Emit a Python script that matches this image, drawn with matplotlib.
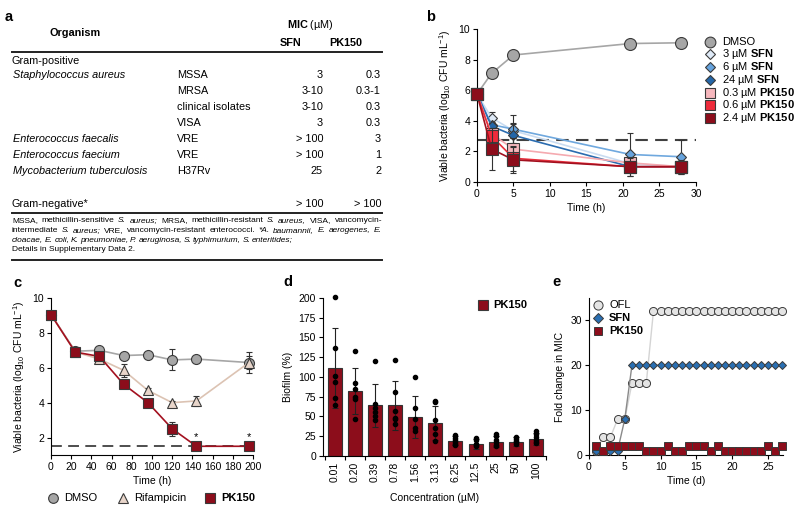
import matplotlib
matplotlib.use("Agg")
import matplotlib.pyplot as plt
from matplotlib.lines import Line2D

plt.rcParams["font.family"] = ["Liberation Sans", "DejaVu Sans"]
plt.rcParams["mathtext.fontset"] = "custom"
plt.rcParams["mathtext.rm"] = "Liberation Sans"
plt.rcParams["mathtext.it"] = "Liberation Sans:italic"
plt.rcParams["mathtext.bf"] = "Liberation Sans:bold"
plt.rcParams["mathtext.default"] = "regular"
FS = 7.5
TFS = 7.8   # table text
NFS = 6.0   # table footnote
EDGE = "#3a3a3a"

# ---- panel a: MIC table ----
tbl_organism = ["Staphylococcus aureus", "", "", "", "Enterococcus faecalis",
                "Enterococcus faecium", "Mycobacterium tuberculosis"]
tbl_strain = ["MSSA", "MRSA", "clinical isolates", "VISA", "VRE", "VRE", "H37Rv"]
tbl_sfn = ["3", "3-10", "3-10", "3", "> 100", "> 100", "25"]
tbl_pk150 = ["0.3", "0.3-1", "0.3", "0.3", "3", "1", "2"]
gramneg_sfn, gramneg_pk150 = "> 100", "> 100"
foot1 = [("MSSA,", 0), ("methicillin-sensitive", 0), ("S.", 1), ("aureus;", 1), ("MRSA,", 0),
         ("methicillin-resistant", 0), ("S.", 1), ("aureus,", 1), ("VISA,", 0), ("vancomycin-", 0)]
foot2 = [("intermediate", 0), ("S.", 1), ("aureus;", 1), ("VRE,", 0), ("vancomycin-resistant", 0),
         ("enterococci.", 0), ("*A.", 1), ("baumannii,", 1), ("E.", 1), ("aerogenes,", 1), ("E.", 1)]
foot3 = [("cloacae,", 1), ("E.", 1), ("coli,", 1), ("K.", 1), ("pneumoniae,", 1), ("P.", 1),
         ("aeruginosa,", 1), ("S.", 1), ("typhimurium,", 1), ("S.", 1), ("enteritides;", 1)]
foot4 = "Details in Supplementary Data 2."

# ---- panel b: time-kill S. aureus ----
b_time = [0, 2, 5, 21, 28]
b_dmso = [5.75, 7.1, 8.3, 9.05, 9.1]
b_dmso_err = [0, 0.15, 0.1, 0.1, 0.1]
b_sfn3 = [5.75, 4.2, 3.35, 1.2, 1.0]
b_sfn3_err = [0, 0.4, 0.5, 0, 0]
b_sfn6 = [5.75, 3.75, 3.45, 1.8, 1.65]
b_sfn6_err = [0, 0.2, 0.9, 1.4, 1.1]
b_sfn24 = [5.75, 3.65, 3.05, 1.0, 1.0]
b_sfn24_err = [0, 0.2, 0.75, 0, 0]
b_pk03 = [5.75, 3.15, 2.15, 1.25, 1.0]
b_pk03_err = [0, 0.3, 0.7, 0.3, 0]
b_pk06 = [5.75, 3.0, 1.55, 1.0, 1.0]
b_pk06_err = [0, 0.4, 0.8, 0.3, 0]
b_pk24 = [5.75, 2.15, 1.45, 1.0, 1.0]
b_pk24_err = [0, 1.35, 0.85, 0.6, 0.45]
b_limit = 2.75

# ---- panel c: persisters ----
c_time = [0, 24, 48, 72, 96, 120, 144, 196]
c_dmso = [9.05, 6.95, 7.0, 6.7, 6.75, 6.45, 6.5, 6.3]
c_dmso_err = [0, 0.1, 0.1, 0.1, 0.1, 0.6, 0.15, 0.6]
c_rif = [9.05, 6.9, 6.5, 5.85, 4.7, 4.0, 4.1, 6.3]
c_rif_err = [0, 0.1, 0.15, 0.35, 0.15, 0.1, 0.3, 0.35]
c_pk = [9.05, 6.9, 6.65, 5.05, 4.0, 2.5, 1.5, 1.5]
c_pk_err = [0, 0.1, 0.1, 0.1, 0.1, 0.4, 0, 0]
c_limit = 1.5
c_star_x = [144, 196]

# ---- panel d: biofilm ----
d_conc = ["0.01", "0.20", "0.39", "0.78", "1.56", "3.13", "6.25", "12.5", "25", "50", "100"]
d_mean = [111, 82, 64, 64, 49.5, 42, 19, 15, 18, 18, 21]
d_sd = [51, 29.5, 27.5, 31, 26.5, 21.5, 6, 6, 7, 6, 8]
d_points = [[201, 137, 101, 93, 73, 64], [133, 92, 84, 75, 72, 46], [120, 66, 61, 55, 50, 45],
            [121, 81, 57, 48, 46, 40], [100, 61, 46, 35, 31], [70, 68, 45, 35, 27, 19],
            [26, 23, 20, 18, 15, 13], [22, 20, 15, 13, 12], [27, 25, 20, 17, 14, 12],
            [24, 21, 19, 17, 15], [31, 28, 24, 20, 17, 16]]

# ---- panel e: resistance development ----
e_day = [1, 2, 3, 4, 5, 6, 7, 8, 9, 10, 11, 12, 13, 14, 15, 16, 17, 18, 19, 20, 21, 22, 23, 24, 25, 26, 27]
e_ofl = [1, 4, 4, 8, 8, 16, 16, 16, 32, 32, 32, 32, 32, 32, 32, 32, 32, 32, 32, 32, 32, 32, 32, 32, 32, 32, 32]
e_sfn = [1, 1, 1, 1, 8, 20, 20, 20, 20, 20, 20, 20, 20, 20, 20, 20, 20, 20, 20, 20, 20, 20, 20, 20, 20, 20, 20]
e_pk = [2, 1, 2, 2, 2, 2, 2, 1, 1, 1, 2, 1, 1, 2, 2, 2, 1, 2, 1, 1, 1, 1, 1, 1, 2, 1, 2]

W, H = 800, 515
fig = plt.figure(figsize=(8, 5.15), dpi=100)


def fx(px):
    return px / W


def fy(py):
    return 1 - py / H


def box(l, t, r, b):
    return [l / W, 1 - b / H, (r - l) / W, (b - t) / H]


def ftext(x, y, s, **kw):
    kw.setdefault("fontsize", FS)
    kw.setdefault("va", "center")
    return fig.text(fx(x), fy(y), s, **kw)


def fline(x0, x1, y, lw=1.4):
    fig.add_artist(Line2D([fx(x0), fx(x1)], [fy(y), fy(y)], color="#222222", lw=lw, transform=fig.transFigure))


def fmarker(x, y, **kw):
    fig.add_artist(Line2D([fx(x)], [fy(y)], ls="none", transform=fig.transFigure, **kw))


def style(ax):
    for s in ("top", "right"):
        ax.spines[s].set_visible(False)
    for s in ("left", "bottom"):
        ax.spines[s].set_linewidth(0.8)
    ax.tick_params(direction="out", length=3, width=0.8, labelsize=FS, pad=2)


def errs(ax, x, y, e, z=2):
    xs = [a for a, k in zip(x, e) if k > 0]
    ys = [a for a, k in zip(y, e) if k > 0]
    es = [k for k in e if k > 0]
    ax.errorbar(xs, ys, yerr=es, fmt="none", ecolor="#333333", elinewidth=0.8, capsize=2.5,
                capthick=0.8, zorder=z, clip_on=False)


# panel labels
for lab, x, y in [("a", 5, 17), ("b", 426, 17), ("c", 13, 283), ("d", 283, 282), ("e", 552, 282)]:
    ftext(x, y, lab, fontsize=10.5, fontweight="bold")

# ---- table ----
ftext(310, 25, r"$\mathbf{MIC}$ (µM)", ha="center", fontsize=TFS)
ftext(75, 33, "Organism", ha="center", fontweight="bold", fontsize=TFS)
ftext(291, 43, "SFN", ha="center", fontweight="bold", fontsize=TFS)
ftext(346, 43, "PK150", ha="center", fontweight="bold", fontsize=TFS)
fline(12, 382, 51.5)
ftext(12, 61, "Gram-positive", fontsize=TFS)
for i in range(len(tbl_strain)):
    y = 75 + i * 16
    ftext(13, y, tbl_organism[i], style="italic", fontsize=TFS)
    ftext(177, y, tbl_strain[i], fontsize=TFS)
    ftext(323, y, tbl_sfn[i], ha="right", fontsize=TFS)
    ftext(381, y, tbl_pk150[i], ha="right", fontsize=TFS)
ftext(12, 204, "Gram-negative*", fontsize=TFS)
ftext(323, 204, gramneg_sfn, ha="right", fontsize=TFS)
ftext(381, 204, gramneg_pk150, ha="right", fontsize=TFS)
fline(12, 382, 212.7)
fline(12, 382, 259.5)

renderer = fig.canvas.get_renderer()


def place_words(words, x0, x1, y, fs=NFS):
    arts = [fig.text(0, fy(y), w, fontsize=fs, style="italic" if it else "normal", va="center")
            for w, it in words]
    widths = [a.get_window_extent(renderer).width for a in arts]
    gap = max((x1 - x0 - sum(widths)) / (len(arts) - 1), 1.5)
    x = x0
    for a, w in zip(arts, widths):
        a.set_x(fx(x))
        x += w + gap


place_words(foot1, 12, 382, 220.7)
place_words(foot2, 12, 382, 230.3)
place_words(foot3, 12, 293, 240)
ftext(12, 249.5, foot4, fontsize=NFS)

# ---- panel b ----
axb = fig.add_axes(box(477, 29, 696, 182))
style(axb)
b_series = [
    ("DMSO", b_dmso, b_dmso_err, "o", 8.6, "#a6a6a6", "#a6a6a6"),
    (r"3 µM $\mathbf{SFN}$", b_sfn3, b_sfn3_err, "D", 5.6, "#dfeaf7", "#c9dcf1"),
    (r"6 µM $\mathbf{SFN}$", b_sfn6, b_sfn6_err, "D", 5.6, "#66a3dd", "#6fa8de"),
    (r"24 µM $\mathbf{SFN}$", b_sfn24, b_sfn24_err, "D", 5.6, "#2466a8", "#2a6cb0"),
    (r"0.3 µM $\mathbf{PK150}$", b_pk03, b_pk03_err, "s", 8.6, "#f6b7bd", "#f5aab0"),
    (r"0.6 µM $\mathbf{PK150}$", b_pk06, b_pk06_err, "s", 8.6, "#ee2b3b", "#e8303c"),
    (r"2.4 µM $\mathbf{PK150}$", b_pk24, b_pk24_err, "s", 8.6, "#8c0d1b", "#a3101f"),
]
axb.axhline(b_limit, color="#404040", lw=1.5, dashes=(6, 3.5), zorder=1)
for i, (lab, y, e, m, ms, fc, lc) in enumerate(b_series):
    z = 3 + i
    axb.plot(b_time, y, color=lc, lw=1.2, zorder=z)
    errs(axb, b_time, y, e, z)
    axb.plot(b_time, y, ls="none", marker=m, ms=ms, mfc=fc, mec=EDGE, mew=0.8, zorder=z + 0.5, clip_on=False)
    ly = 41.7 + i * 12.75
    fmarker(710, ly, marker=m, ms=ms * 0.9 if m != "D" else ms, mfc=fc, mec=EDGE, mew=0.8)
    ftext(722, ly, lab, fontsize=8)
axb.set_xlim(0, 30)
axb.set_ylim(0, 10)
axb.set_xticks([0, 5, 10, 15, 20, 25, 30])
axb.set_yticks([0, 2, 4, 6, 8, 10])
axb.set_xlabel("Time (h)", fontsize=FS, labelpad=3)
axb.set_ylabel(r"Viable bacteria (log$_{10}$ CFU mL$^{-1}$)", fontsize=FS, labelpad=4)

# ---- panel c ----
axc = fig.add_axes(box(51, 298, 253, 455))
style(axc)
c_series = [
    ("DMSO", c_dmso, c_dmso_err, "o", 7.2, "#a6a6a6", "#a6a6a6", "normal"),
    ("Rifampicin", c_rif, c_rif_err, "^", 7.2, "#e8d5ca", "#dcc3b3", "normal"),
    ("PK150", c_pk, c_pk_err, "s", 7.2, "#8c0d1b", "#a3101f", "bold"),
]
axc.plot([0, 200], [c_limit, c_limit], color="#404040", lw=1.3, dashes=(6, 3.5), zorder=1)
leg_x = [53, 123, 210]
for i, (lab, y, e, m, ms, fc, lc, fw) in enumerate(c_series):
    z = 3 + i
    axc.plot(c_time, y, color=lc, lw=1.2, zorder=z)
    errs(axc, c_time, y, e, z)
    axc.plot(c_time, y, ls="none", marker=m, ms=ms, mfc=fc, mec=EDGE, mew=0.8, zorder=z + 0.5, clip_on=False)
    fmarker(leg_x[i], 498, marker=m, ms=7, mfc=fc, mec=EDGE, mew=0.8)
    ftext(leg_x[i] + 11, 498, lab, fontweight=fw, fontsize=8)
for sx in c_star_x:
    axc.text(sx, 2.05, "*", ha="center", va="center", fontsize=8)
axc.set_xlim(0, 200)
axc.set_ylim(1, 10)
axc.set_xticks(range(0, 201, 20))
axc.set_yticks([2, 4, 6, 8, 10])
axc.set_xlabel("Time (h)", fontsize=FS, labelpad=3)
axc.set_ylabel(r"Viable bacteria (log$_{10}$ CFU mL$^{-1}$)", fontsize=FS, labelpad=4)

# ---- panel d ----
axd = fig.add_axes(box(323, 298, 546, 455.7))
style(axd)
xs = list(range(len(d_conc)))
axd.bar(xs, d_mean, width=0.7, color="#8c0d1b", edgecolor="#333333", lw=0.8, zorder=2)
axd.errorbar(xs, d_mean, yerr=d_sd, fmt="none", ecolor="#222222", elinewidth=0.8, capsize=2.5,
             capthick=0.8, zorder=3)
for x, pts in zip(xs, d_points):
    axd.plot([x] * len(pts), pts, ls="none", marker="o", ms=3, color="black", zorder=4, clip_on=False)
axd.set_xlim(-0.58, 10.5)
axd.set_ylim(0, 200)
axd.set_yticks(range(0, 201, 25))
axd.set_xticks(xs)
axd.set_xticklabels(d_conc, rotation=90)
axd.set_xticks([x + 0.5 for x in [-1] + xs], minor=True)
axd.tick_params(axis="x", which="major", length=0, pad=4)
axd.tick_params(axis="x", which="minor", direction="out", length=3, width=0.8)
axd.set_xlabel("Concentration (µM)", fontsize=FS, labelpad=8)
axd.set_ylabel("Biofilm (%)", fontsize=FS, labelpad=4)
fmarker(483, 305, marker="s", ms=6.5, mfc="#8c0d1b", mec=EDGE, mew=0.8)
ftext(493, 305, "PK150", fontweight="bold", fontsize=8)

# ---- panel e ----
axe = fig.add_axes(box(589, 298, 783, 455))
style(axe)
e_series = [
    ("OFL", e_ofl, "o", 5.8, "#e4e4e4", "#d4d4d4", 1.0, "normal"),
    ("SFN", e_sfn, "D", 3.9, "#2a6fb2", "#8a8a8a", 1.0, "bold"),
    ("PK150", e_pk, "s", 5.4, "#8c0d1b", "white", 0.0, "bold"),
]
for i, (lab, y, m, ms, fc, lc, lw, fw) in enumerate(e_series):
    z = 3 + i
    if lw > 0:
        axe.plot(e_day, y, color=lc, lw=lw, zorder=z)
    axe.plot(e_day, y, ls="none", marker=m, ms=ms, mfc=fc, mec=EDGE, mew=0.7, zorder=z + 0.5, clip_on=False)
    ly = 305 + i * 13
    fmarker(598, ly, marker=m, ms=ms + 0.8, mfc=fc, mec=EDGE, mew=0.7)
    ftext(609, ly, lab, fontweight=fw, fontsize=8)
axe.set_xlim(0, 27.1)
axe.set_ylim(0, 35)
axe.set_xticks([0, 5, 10, 15, 20, 25])
axe.set_yticks([0, 10, 20, 30])
axe.set_xlabel("Time (d)", fontsize=FS, labelpad=3)
axe.set_ylabel("Fold change in MIC", fontsize=FS, labelpad=4)

fig.savefig("out.png", dpi=100)
